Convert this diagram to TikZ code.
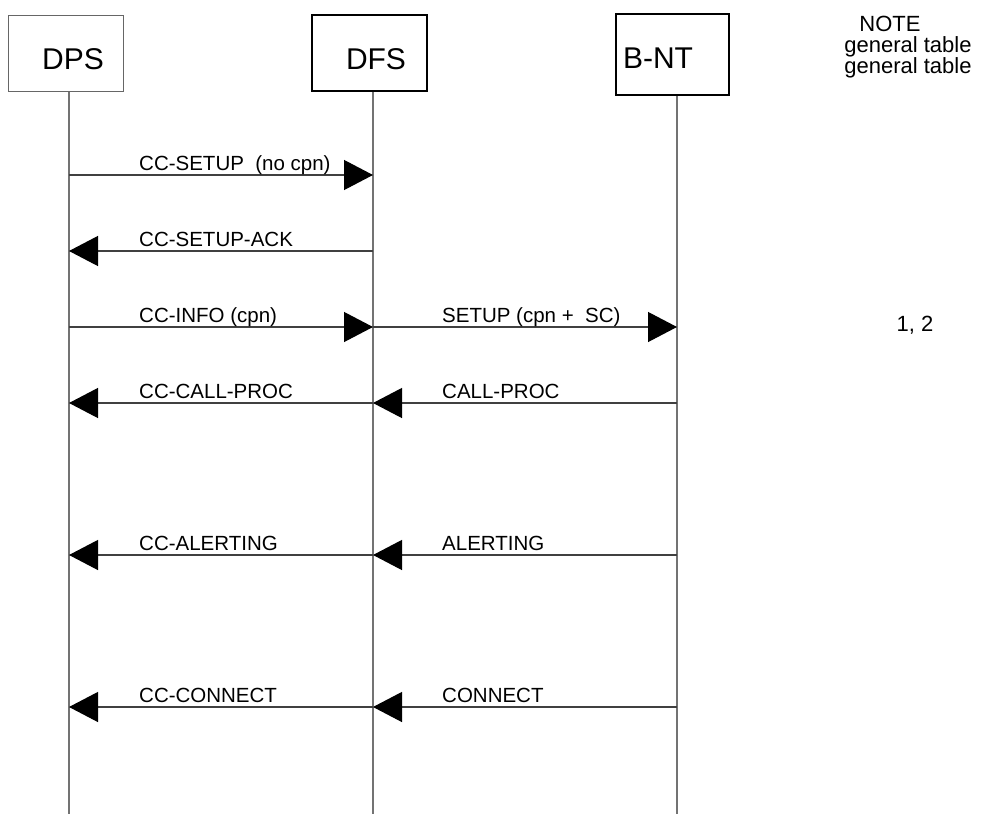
\documentclass[tikz,border=0pt]{standalone}
\usepackage{fontspec}
\setmainfont{Liberation Sans}
\usetikzlibrary{arrows.meta}

\begin{document}
\begin{tikzpicture}[x=1pt,y=-1pt,
	entity/.style={draw,minimum width=115pt,minimum height=76pt,inner sep=0pt,font=\fontsize{30}{34}\selectfont},
	lifeline/.style={draw=black!55,line width=1.2pt},
	msg/.style={draw=black!75,line width=1.2pt,-{Triangle[length=29pt,width=30pt,color=black]}},
	msgtext/.style={anchor=base west,inner sep=0pt,font=\fontsize{20.5}{24}\selectfont},
	notetext/.style={anchor=base,inner sep=0pt,font=\fontsize{22}{26}\selectfont}]
	\useasboundingbox (0,0) rectangle (986,814);

	% the three parties
	\node[entity,draw=black!60,line width=1pt] (dps) at (65.5,53) {\raisebox{-6pt}[\height][\depth]{\hspace*{15pt}DPS}};
	\node[entity,line width=1.6pt] (dfs) at (369.5,53) {\raisebox{-6pt}[\height][\depth]{\hspace*{13pt}DFS}};
	\node[entity,line width=1.8pt,minimum width=113pt,minimum height=81pt] (bnt) at (672.5,54.5) {\raisebox{-4pt}[\height][\depth]{B-NT\hspace*{29pt}}};

	% lifelines
	\coordinate (dpsEnd) at (69,814);
	\coordinate (dfsEnd) at (373,814);
	\coordinate (bntEnd) at (677,814);
	\draw[lifeline] (dps.south -| dpsEnd) -- (dpsEnd);
	\draw[lifeline] (dfs.south -| dfsEnd) -- (dfsEnd);
	\draw[lifeline] (bnt.south -| bntEnd) -- (bntEnd);

	% notes column
	\node[notetext] (notehead) at (890,31) {NOTE};
	\node[notetext] (notegen1) at (908,52) {general table};
	\node[notetext] (notegen2) at (908,73.5) {general table};
	\node[notetext] (noteref) at (915,331) {1, 2};

	% message rows
	\coordinate (r1) at (0,175);
	\coordinate (r2) at (0,251);
	\coordinate (r3) at (0,327);
	\coordinate (r4) at (0,403);
	\coordinate (r5) at (0,555);
	\coordinate (r6) at (0,707);

	\draw[msg] (dpsEnd |- r1) -- (dfsEnd |- r1);
	\path (dpsEnd |- r1) ++(70,-5) node[msgtext] (m1) {CC-SETUP\ \ (no cpn)};

	\draw[msg] (dfsEnd |- r2) -- (dpsEnd |- r2);
	\path (dpsEnd |- r2) ++(70,-5) node[msgtext] (m2) {CC-SETUP-ACK};

	\draw[msg] (dpsEnd |- r3) -- (dfsEnd |- r3);
	\path (dpsEnd |- r3) ++(70,-5) node[msgtext] (m3) {CC-INFO (cpn)};
	\draw[msg] (dfsEnd |- r3) -- (bntEnd |- r3);
	\path (dfsEnd |- r3) ++(69,-5) node[msgtext] (m4) {SETUP (cpn +\ \ SC)};

	\draw[msg] (dfsEnd |- r4) -- (dpsEnd |- r4);
	\path (dpsEnd |- r4) ++(70,-5) node[msgtext] (m5) {CC-CALL-PROC};
	\draw[msg] (bntEnd |- r4) -- (dfsEnd |- r4);
	\path (dfsEnd |- r4) ++(69,-5) node[msgtext] (m6) {CALL-PROC};

	\draw[msg] (dfsEnd |- r5) -- (dpsEnd |- r5);
	\path (dpsEnd |- r5) ++(70,-5) node[msgtext] (m7) {CC-ALERTING};
	\draw[msg] (bntEnd |- r5) -- (dfsEnd |- r5);
	\path (dfsEnd |- r5) ++(69,-5) node[msgtext] (m8) {ALERTING};

	\draw[msg] (dfsEnd |- r6) -- (dpsEnd |- r6);
	\path (dpsEnd |- r6) ++(70,-5) node[msgtext] (m9) {CC-CONNECT};
	\draw[msg] (bntEnd |- r6) -- (dfsEnd |- r6);
	\path (dfsEnd |- r6) ++(69,-5) node[msgtext] (m10) {CONNECT};
\end{tikzpicture}
\end{document}
